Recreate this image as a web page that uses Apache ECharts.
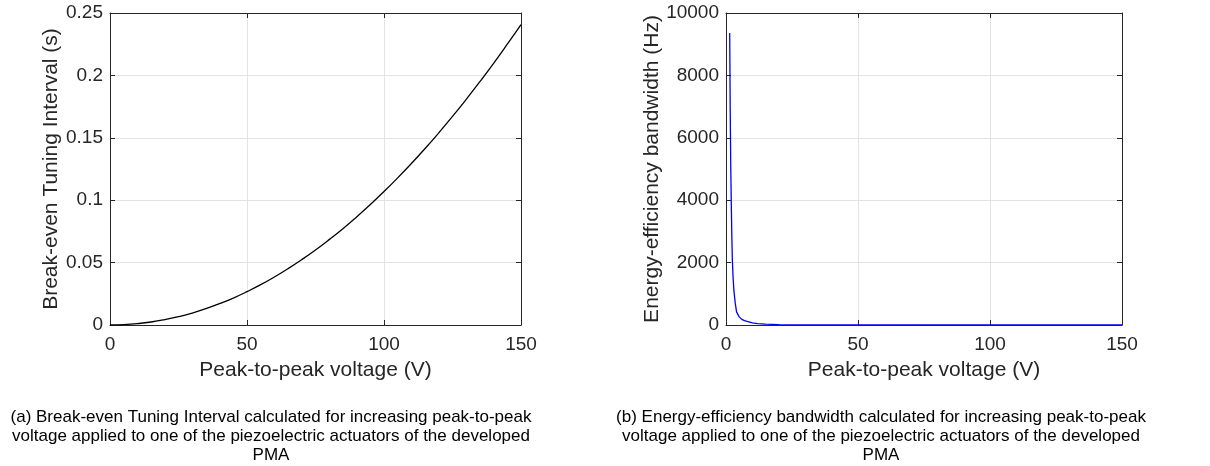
<!DOCTYPE html>
<html>
<head>
<meta charset="utf-8">
<script src="https://cdn.jsdelivr.net/npm/echarts@6/dist/echarts.min.js"></script>
<style>
html,body{margin:0;padding:0;background:#fff;}
#chart{width:1210px;height:466px;}
</style>
</head>
<body>
<div id="chart"></div>
<script>
// Panel (a): Break-even tuning interval (s) vs peak-to-peak voltage (V)
const voltageA = [0,5,10,15,20,25,30,35,40,45,50,55,60,65,70,75,80,85,90,95,100,105,110,115,120,125,130,135,140,145,150];
const intervalA = [0,0.0003,0.0011,0.0024,0.0043,0.0067,0.0096,0.0131,0.0171,0.0216,0.0267,0.0323,0.0385,0.0452,0.0524,0.0601,0.0684,0.0772,0.0866,0.0965,0.1069,0.1179,0.1294,0.1414,0.1540,0.1671,0.1808,0.1950,0.2097,0.2250,0.2407];
// Panel (b): Energy-efficiency bandwidth (Hz) vs peak-to-peak voltage (V)
const voltageB = [1.4,1.6,1.8,2.0,2.2,2.4,2.7,3.0,3.5,4.0,5,6,7,8,10,12,15,20,25,30,40,50,75,100,125,150];
const bandwidthB = [9360,6900,5100,3900,2900,2100,1500,1100,700,420,260,180,140,115,70,45,25,12,7,4.5,2,1,0.4,0.2,0.1,0.05];

const xTicks = [0,50,100,150];
const yTicksA = [0,0.05,0.1,0.15,0.2,0.25];
const yTicksB = [0,2000,4000,6000,8000,10000];

const xTitle = 'Peak-to-peak voltage (V)';
const yTitleA = 'Break-even Tuning Interval (s)';
const yTitleB = 'Energy-efficiency bandwidth (Hz)';
const captionA = ['(a) Break-even Tuning Interval calculated for increasing peak-to-peak','voltage applied to one of the piezoelectric actuators of the developed','PMA'];
const captionB = ['(b) Energy-efficiency bandwidth calculated for increasing peak-to-peak','voltage applied to one of the piezoelectric actuators of the developed','PMA'];

const FONT = '"Liberation Sans", Arial, Helvetica, sans-serif';
const AX = '#262626';
const GRIDC = '#e3e3e3';

function pairs(xs, ys){ return xs.map((x,i)=>[x, ys[i]]); }

function mainX(gi, name){
  return {
    type:'value', gridIndex:gi, min:xTicks[0], max:xTicks[xTicks.length-1], interval:xTicks[1]-xTicks[0], position:'bottom',
    name:name, nameLocation:'middle', nameGap:35,
    nameTextStyle:{fontFamily:FONT, fontSize:21, color:AX, verticalAlign:'top'},
    axisLine:{show:true, onZero:false, lineStyle:{color:AX, width:1}},
    axisTick:{show:true, inside:true, length:5, lineStyle:{color:AX}},
    axisLabel:{fontFamily:FONT, fontSize:19, color:AX, margin:10},
    splitLine:{show:true, lineStyle:{color:GRIDC, width:1}}
  };
}
function topX(gi){
  return {
    type:'value', gridIndex:gi, min:xTicks[0], max:xTicks[xTicks.length-1], interval:xTicks[1]-xTicks[0], position:'top',
    axisLine:{show:true, onZero:false, lineStyle:{color:AX, width:1}},
    axisTick:{show:true, inside:true, length:5, lineStyle:{color:AX}},
    axisLabel:{show:false}, splitLine:{show:false}
  };
}
function mainY(gi, ticks, name, gap){
  return {
    type:'value', gridIndex:gi, min:ticks[0], max:ticks[ticks.length-1], interval:ticks[1]-ticks[0], position:'left',
    name:name, nameLocation:'middle', nameGap:gap,
    nameTextStyle:{fontFamily:FONT, fontSize:21, color:AX},
    axisLine:{show:true, onZero:false, lineStyle:{color:AX, width:1}},
    axisTick:{show:true, inside:true, length:5, lineStyle:{color:AX}},
    axisLabel:{fontFamily:FONT, fontSize:19, color:AX, margin:7, formatter:v=>String(+v.toFixed(4))},
    splitLine:{show:true, lineStyle:{color:GRIDC, width:1}}
  };
}
function rightY(gi, ticks){
  return {
    type:'value', gridIndex:gi, min:ticks[0], max:ticks[ticks.length-1], interval:ticks[1]-ticks[0], position:'right',
    axisLine:{show:true, onZero:false, lineStyle:{color:AX, width:1}},
    axisTick:{show:true, inside:true, length:5, lineStyle:{color:AX}},
    axisLabel:{show:false}, splitLine:{show:false}
  };
}

const chart = echarts.init(document.getElementById('chart'), null, {renderer:'canvas'});

const graphics = [];
const capTop = 417, capStep = 19, capSize = 17;
captionA.forEach((t,i)=>graphics.push({type:'text', x:271, y:capTop+i*capStep, style:{text:t, fontFamily:FONT, fontSize:capSize, fill:'#000', align:'center', verticalAlign:'middle'}}));
captionB.forEach((t,i)=>graphics.push({type:'text', x:881, y:capTop+i*capStep, style:{text:t, fontFamily:FONT, fontSize:capSize, fill:'#000', align:'center', verticalAlign:'middle'}}));

chart.setOption({
  animation:false,
  backgroundColor:'#fff',
  grid:[
    {left:110, top:13, width:411, height:312, containLabel:false},
    {left:726, top:13, width:396, height:312, containLabel:false}
  ],
  xAxis:[ mainX(0, xTitle), topX(0), mainX(1, xTitle), topX(1) ],
  yAxis:[
    mainY(0, yTicksA, yTitleA, 48),
    rightY(0, yTicksA),
    mainY(1, yTicksB, yTitleB, 62),
    rightY(1, yTicksB)
  ],
  series:[
    {type:'line', xAxisIndex:0, yAxisIndex:0, data:pairs(voltageA, intervalA), showSymbol:false, symbol:'none', smooth:true,
     lineStyle:{color:'#000', width:1.3}},
    {type:'line', xAxisIndex:2, yAxisIndex:2, data:pairs(voltageB, bandwidthB), showSymbol:false, symbol:'none', smooth:false,
     lineStyle:{color:'#0000ff', width:1.3}}
  ],
  graphic: graphics
});
</script>
</body>
</html>
